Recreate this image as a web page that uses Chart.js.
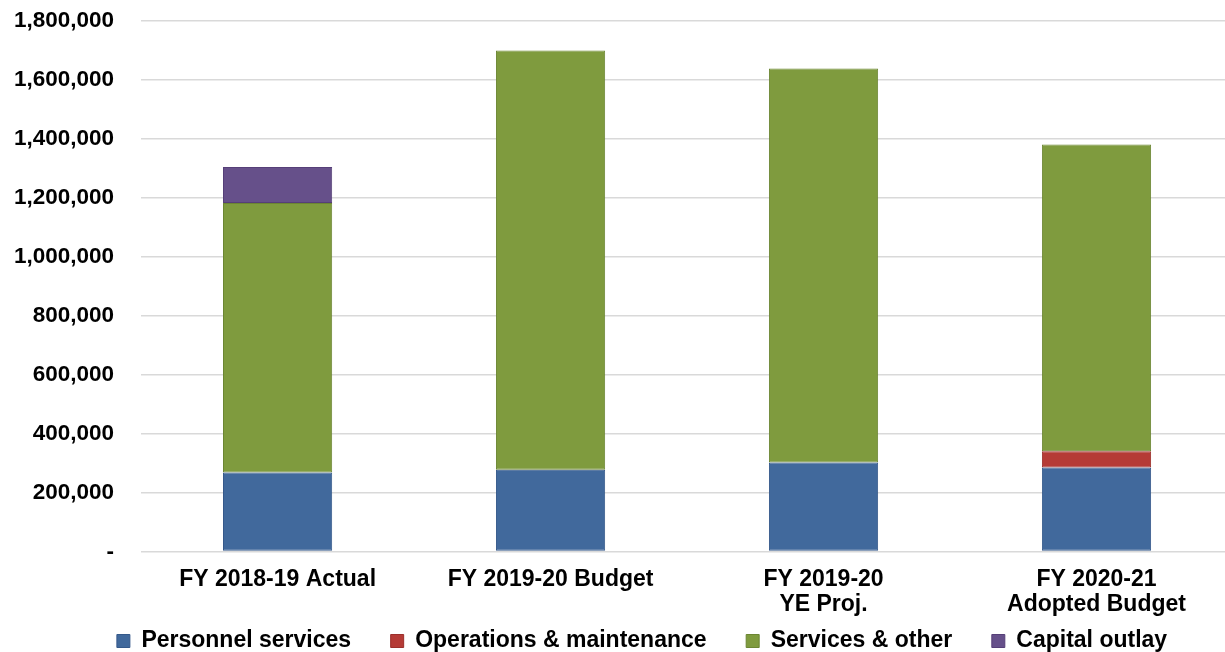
<!DOCTYPE html>
<html>
<head>
<meta charset="utf-8">
<script src="https://cdn.jsdelivr.net/npm/chart.js@4/dist/chart.umd.min.js"></script>
<style>
  html, body { margin: 0; padding: 0; background: #fff; overflow: hidden; }
  #wrap { width: 1234px; height: 672px; margin-top: -20px; }
</style>
</head>
<body>
<div id="wrap"><canvas id="budget-chart"></canvas></div>
<script>
// categories and values
var categories = [
    ['FY 2018-19 Actual'],
    ['FY 2019-20 Budget'],
    ['FY 2019-20', 'YE Proj.'],
    ['FY 2020-21', 'Adopted Budget']
];
var personnel = [268000, 277000, 302000, 285000];
var operations = [0, 0, 0, 55000];
var services = [913000, 1421000, 1335000, 1040000];
var capital = [122000, 0, 0, 0];
var yTicks = [0, 200000, 400000, 600000, 800000, 1000000, 1200000, 1400000, 1600000, 1800000];

Chart.defaults.font.family = '"Liberation Sans", Arial, sans-serif';
Chart.defaults.font.weight = 'bold';
Chart.defaults.color = '#000';

var ctx = document.getElementById('budget-chart').getContext('2d');

var makeSet = function (label, data, fill, edge) {
    return {
        label: label,
        data: data,
        backgroundColor: fill,
        borderColor: edge,
        borderWidth: 1,
        borderSkipped: false,
        barPercentage: 0.4,
        categoryPercentage: 1.0
    };
};

// widen the gap between legend entries without adding vertical room
var legendLabels = function (chart) {
    var items = Chart.defaults.plugins.legend.labels.generateLabels(chart);
    items.forEach(function (item, i) {
        if (i < items.length - 1) item.text = item.text + '\u2002\u2002\u2009';
    });
    return items;
};

// nudge the legend row to the right, the original is not centred on the canvas
var legendShift = {
    id: 'legendShift',
    afterLayout: function (chart) {
        chart.legend.left += 32;
        chart.legend.right += 32;
    }
};

var chart = new Chart(ctx, {
    type: 'bar',
    data: {
        labels: categories,
        datasets: [
            makeSet('Personnel services', personnel, '#41699c', '#35598a'),
            makeSet('Operations & maintenance', operations, '#b53b36', '#9c2f2b'),
            makeSet('Services & other', services, '#7f9b3e', '#6c8633'),
            makeSet('Capital outlay', capital, '#66508a', '#563f78')
        ]
    },
    plugins: [legendShift],
    options: {
        responsive: true,
        maintainAspectRatio: false,
        animation: false,
        layout: { padding: { top: -12, right: 1, bottom: -10.5, left: -13 } },
        plugins: {
            legend: {
                display: true,
                position: 'bottom',
                labels: {
                    boxWidth: 13,
                    boxHeight: 13,
                    padding: 12,
                    color: '#000',
                    font: { size: 23, weight: 'bold' },
                    generateLabels: legendLabels
                }
            },
            tooltip: { enabled: false }
        },
        scales: {
            x: {
                stacked: true,
                grid: { display: false, drawTicks: false },
                border: { display: false },
                afterFit: function (scale) { scale.height = 66; },
                ticks: {
                    color: '#000',
                    padding: 15.5,
                    maxRotation: 0,
                    autoSkip: false,
                    font: { size: 23, weight: 'bold', lineHeight: 1.09 }
                }
            },
            y: {
                stacked: true,
                min: 0,
                max: 1800000,
                afterBuildTicks: function (axis) {
                    axis.ticks = yTicks.map(function (v) { return { value: v }; });
                },
                grid: { color: '#d9d9d9', lineWidth: 1.5, drawTicks: false },
                border: { display: false },
                ticks: {
                    color: '#000',
                    padding: 27,
                    font: { size: 22.5, weight: 'bold' },
                    callback: function (v) {
                        return v === 0 ? '-' : v.toLocaleString('en-US');
                    }
                }
            }
        }
    }
});
</script>
</body>
</html>
